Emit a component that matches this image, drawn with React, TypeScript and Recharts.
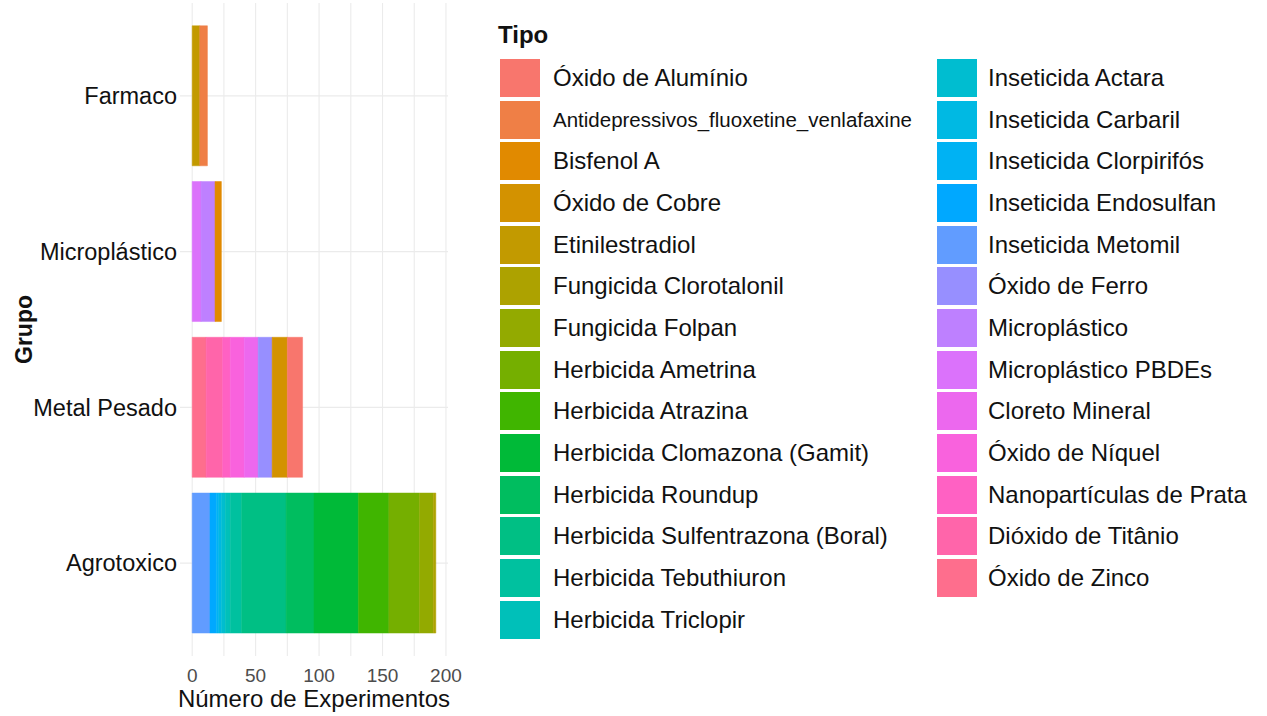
import { BarChart, Bar, XAxis, YAxis, CartesianGrid, Legend, Label } from "recharts";

const FONT = '"Liberation Sans", Arial, sans-serif';

const GROUPS = ["Farmaco", "Microplástico", "Metal Pesado", "Agrotoxico"];

const TYPES = [
  "Óxido de Alumínio",
  "Antidepressivos_fluoxetine_venlafaxine",
  "Bisfenol A",
  "Óxido de Cobre",
  "Etinilestradiol",
  "Fungicida Clorotalonil",
  "Fungicida Folpan",
  "Herbicida Ametrina",
  "Herbicida Atrazina",
  "Herbicida Clomazona (Gamit)",
  "Herbicida Roundup",
  "Herbicida Sulfentrazona (Boral)",
  "Herbicida Tebuthiuron",
  "Herbicida Triclopir",
  "Inseticida Actara",
  "Inseticida Carbaril",
  "Inseticida Clorpirifós",
  "Inseticida Endosulfan",
  "Inseticida Metomil",
  "Óxido de Ferro",
  "Microplástico",
  "Microplástico PBDEs",
  "Cloreto Mineral",
  "Óxido de Níquel",
  "Nanopartículas de Prata",
  "Dióxido de Titânio",
  "Óxido de Zinco",
];

// paleta hue do ggplot (27 níveis)
const TYPE_COLORS = [
  "#F8766D", "#EF7F46", "#E18A00", "#D39200", "#C29A00", "#ADA200", "#93AA00",
  "#75AF00", "#40B500", "#00BA38", "#00BD5F", "#00BF84", "#00C19F", "#00C0B9",
  "#00BDD0", "#00B9E3", "#00B2F3", "#00A8FF", "#619CFF", "#978FFF", "#BE80FF",
  "#DB72FB", "#EC68EE", "#F962DD", "#FF61C3", "#FF65AA", "#FE6E8D",
];

// número de experimentos por tipo, em cada grupo
const FARMACO: [string, number][] = [
  ["Antidepressivos_fluoxetine_venlafaxine", 6],
  ["Etinilestradiol", 6],
];

const MICROPLASTICO: [string, number][] = [
  ["Bisfenol A", 5],
  ["Microplástico", 11],
  ["Microplástico PBDEs", 7],
];

const METAL_PESADO: [string, number][] = [
  ["Óxido de Alumínio", 12],
  ["Óxido de Cobre", 12],
  ["Óxido de Ferro", 11],
  ["Cloreto Mineral", 11],
  ["Óxido de Níquel", 11],
  ["Nanopartículas de Prata", 6],
  ["Dióxido de Titânio", 13],
  ["Óxido de Zinco", 11],
];

const AGROTOXICO: [string, number][] = [
  ["Fungicida Clorotalonil", 2],
  ["Fungicida Folpan", 11],
  ["Herbicida Ametrina", 24],
  ["Herbicida Atrazina", 24],
  ["Herbicida Clomazona (Gamit)", 35],
  ["Herbicida Roundup", 22],
  ["Herbicida Sulfentrazona (Boral)", 35],
  ["Herbicida Tebuthiuron", 9],
  ["Herbicida Triclopir", 4],
  ["Inseticida Actara", 3],
  ["Inseticida Carbaril", 2],
  ["Inseticida Clorpirifós", 2],
  ["Inseticida Endosulfan", 5],
  ["Inseticida Metomil", 14],
];

const X_TICKS = [0, 25, 50, 75, 100, 125, 150, 175, 200];

const GROUP_COUNTS = [FARMACO, MICROPLASTICO, METAL_PESADO, AGROTOXICO];

const data = GROUPS.map((grupo, gi) => {
  const row: Record<string, string | number> = { grupo };
  TYPES.forEach((t, i) => {
    const hit = GROUP_COUNTS[gi].find(([name]) => name === t);
    row[`t${i}`] = hit ? hit[1] : 0;
  });
  return row;
});

function TipoLegend() {
  const cols = [TYPES.slice(0, 14), TYPES.slice(14)];
  return (
    <div style={{ position: "relative", width: 770, height: 660, fontFamily: FONT, color: "#111" }}>
      <div style={{ position: "absolute", left: 8, top: 11, fontSize: 24, fontWeight: "bold" }}>Tipo</div>
      {cols.map((col, ci) => (
        <div key={ci} style={{ position: "absolute", left: ci === 0 ? 10 : 447, top: 47 }}>
          {col.map((t) => {
            const idx = TYPES.indexOf(t);
            return (
              <div key={t} style={{ display: "flex", alignItems: "center", height: 41.7 }}>
                <div style={{ width: 40, height: 38, background: TYPE_COLORS[idx], flex: "none" }} />
                <span
                  style={{
                    marginLeft: ci === 0 ? 13 : 11,
                    fontSize: t.length > 32 ? 20.5 : 24,
                    whiteSpace: "nowrap",
                  }}
                >
                  {t}
                </span>
              </div>
            );
          })}
        </div>
      ))}
    </div>
  );
}

export default function App() {
  const bars = TYPES.map((t, i) => ({ t, i })).reverse();
  return (
    <div style={{ position: "absolute", left: 0, top: 0, width: 1267, height: 716, background: "#fff", fontFamily: FONT }}>
      <BarChart
        width={1267}
        height={716}
        data={data}
        layout="vertical"
        margin={{ top: 3, right: 819, bottom: 0, left: 0 }}
        barCategoryGap="5%"
      >
        <CartesianGrid stroke="#EBEBEB" strokeWidth={1.1} syncWithTicks />
        <XAxis
          type="number"
          domain={[-9.6, 201.6]}
          ticks={X_TICKS}
          tickFormatter={(v: number) => (v % 50 === 0 ? String(v) : "")}
          axisLine={false}
          tickLine={false}
          tickSize={0}
          tickMargin={13}
          height={60}
          tick={{ fontSize: 19, fill: "#4D4D4D", fontFamily: FONT }}
        >
          <Label
            value="Número de Experimentos"
            position="insideBottom"
            offset={9}
            style={{ fontSize: 24, fill: "#111", fontFamily: FONT }}
          />
        </XAxis>
        <YAxis
          type="category"
          dataKey="grupo"
          width={180}
          padding={{ top: 15, bottom: 15 }}
          axisLine={false}
          tickLine={false}
          tickSize={0}
          tickMargin={3}
          tick={{ fontSize: 23.5, fill: "#111", fontFamily: FONT }}
        >
          <Label
            value="Grupo"
            angle={-90}
            position="insideLeft"
            offset={24}
            style={{ textAnchor: "middle", fontSize: 23, fontWeight: "bold", fill: "#111", fontFamily: FONT }}
          />
        </YAxis>
        <Legend
          layout="vertical"
          align="center"
          verticalAlign="middle"
          wrapperStyle={{ left: 490, top: 10, width: 770, height: 660 }}
          content={() => <TipoLegend />}
        />
        {bars.map(({ t, i }) => (
          <Bar
            key={t}
            dataKey={`t${i}`}
            name={t}
            stackId="tipo"
            fill={TYPE_COLORS[i]}
            stroke={TYPE_COLORS[i]}
            strokeWidth={0.5}
            isAnimationActive={false}
          />
        ))}
      </BarChart>
    </div>
  );
}
